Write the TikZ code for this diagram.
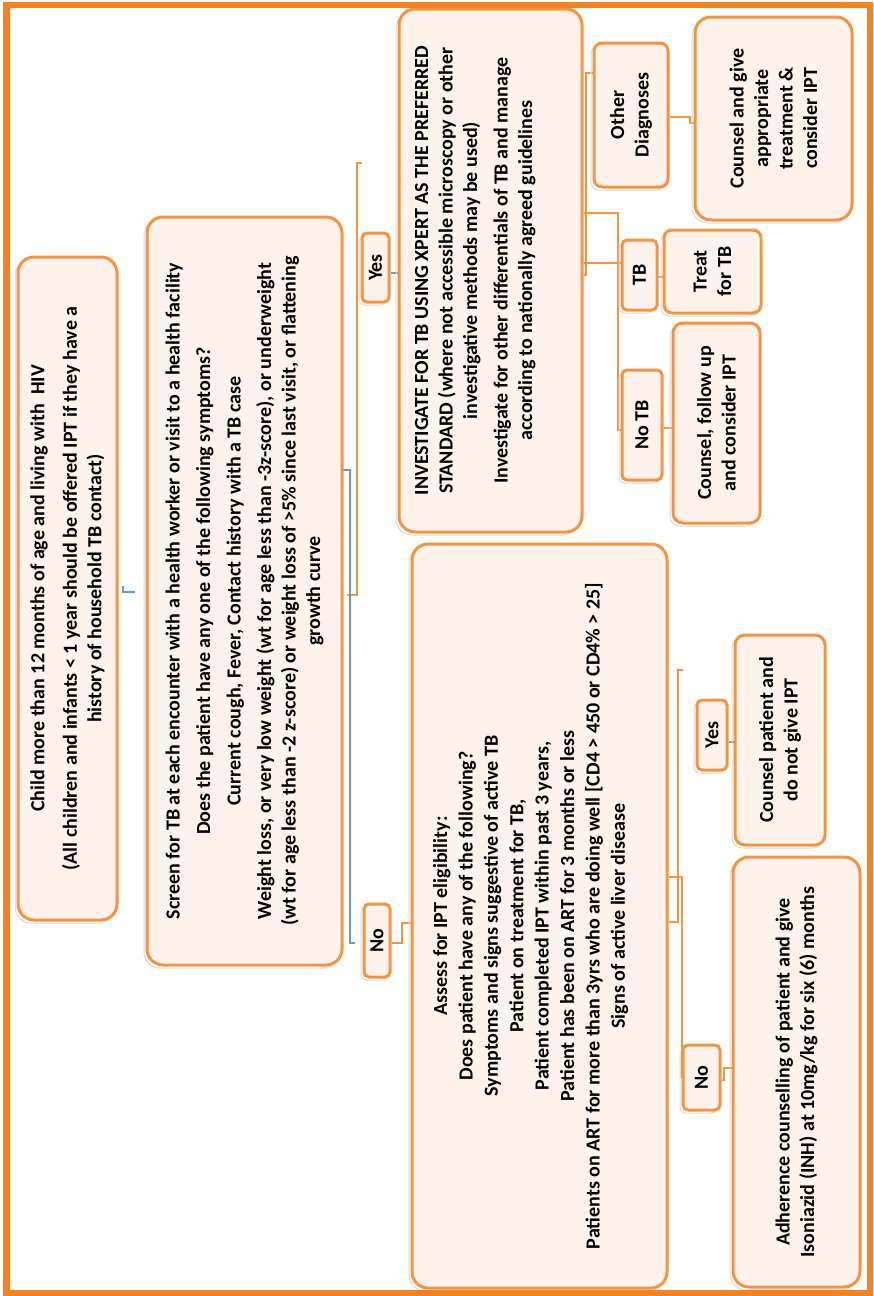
\documentclass[tikz,border=0pt]{standalone}
\usepackage{fontspec}
\setmainfont{Carlito}
\usetikzlibrary{calc}
\pgfdeclarelayer{background}
\pgfsetlayers{background,main}
\definecolor{frameor}{RGB}{245,130,32}
\definecolor{boxor}{RGB}{245,148,64}
\definecolor{boxfill}{RGB}{253,243,236}
\definecolor{lnblue}{RGB}{100,155,210}
\newcommand\fs{\fontsize{20pt}{24.5pt}\selectfont\bfseries}
\newcommand\fsd{\fontsize{20pt}{25.4pt}\selectfont\bfseries}
\tikzset{
  bx/.style={draw=boxor, line width=3pt, fill=boxfill, rotate=90, align=center,
    inner sep=0pt, font=\fs, rounded corners=#1,
    preaction={draw=black!15, line width=1pt, transform canvas={shift={(-3pt,-3pt)}}}},
  bx/.default=16pt,
  oc/.style={draw=boxor, line width=2pt},
  bc/.style={draw=lnblue, line width=2pt},
}
\begin{document}
\begin{tikzpicture}[x=1pt,y=-1pt]
\useasboundingbox (0,0) rectangle (873,1296);

% main boxes
\node[bx, minimum width=663pt, minimum height=99pt] (A) at (67.5,588.5)
 {Child more than 12 months of age and living with\ \ HIV\\[8pt](All children and infants < 1 year should be offered IPT if they have a\\history of household TB contact)};
\node[bx, minimum width=748pt, minimum height=195pt] (B) at (244.5,591)
 {Screen for TB at each encounter with a health worker or visit to a health facility\\[6pt]Does the patient have any one of the following symptoms?\\[6pt]Current cough, Fever, Contact history with a TB case\\[6pt]Weight loss, or very low weight (wt for age less than -3z-score), or underweight\\(wt for age less than -2 z-score) or weight loss of >5\% since last visit, or flattening\\growth curve};
\node[bx, minimum width=523pt, minimum height=183pt] (C) at (490.5,270.5)
 {INVESTIGATE FOR TB USING XPERT AS THE PREFERRED\\STANDARD (where not accessible microscopy or other\\investigative methods may be used)\\[6pt]Investigate for other differentials of TB and manage\\according to nationally agreed guidelines\rule[-34pt]{0pt}{0pt}};
\node[bx, font=\fsd, minimum width=744pt, minimum height=255pt] (D) at (539.5,916)
 {Assess for IPT eligibility:\\Does patient have any of the following?\\Symptoms and signs suggestive of active TB\\Patient on treatment for TB,\\Patient completed IPT within past 3 years,\\Patient has been on ART for 3 months or less\\Patients on ART for more than 3yrs who are doing well [CD4 > 450 or CD4\% > 25]\\Signs of active liver disease\rule[-21pt]{0pt}{0pt}};

% labels and outcome boxes
\node[bx=5pt, minimum width=69pt, minimum height=27pt] (YesU) at (375.5,267.5) {Yes};
\node[bx=5pt, minimum width=73pt, minimum height=26pt] (NoU) at (377,940.5) {No};
\node[bx=8pt, minimum width=144pt, minimum height=74pt] (OD) at (631,115) {Other\\Diagnoses};
\node[bx, minimum width=203pt, minimum height=157pt] (CG) at (773.5,118.5) {Counsel and give\\appropriate\\treatment \&\\consider IPT};
\node[bx=5pt, minimum width=70pt, minimum height=35pt] (TB) at (639.5,275) {TB};
\node[bx=8pt, minimum width=83pt, minimum height=97pt] (Treat) at (712.5,271.5) {Treat\\for TB};
\node[bx=5pt, minimum width=110pt, minimum height=40pt] (NoTB) at (642,425) {No TB};
\node[bx=10pt, minimum width=200pt, minimum height=87pt] (CF) at (716.5,423) {Counsel, follow up\\and consider IPT};
\node[bx=5pt, minimum width=70pt, minimum height=30pt] (YesL) at (712,735) {Yes};
\node[bx=10pt, minimum width=210pt, minimum height=90pt] (CP) at (780,740) {Counsel patient and\\do not give IPT};
\node[bx=5pt, minimum width=65pt, minimum height=37pt] (NoL) at (701.5,1077.5) {No};
\node[bx, minimum width=430pt, minimum height=127pt] (AD) at (796.5,1072) {Adherence counselling of patient and give\\Isoniazid (INH) at 10mg/kg for six (6) months};

% connectors
\begin{pgfonlayer}{background}
\coordinate (ab1) at (123,586);
\coordinate (ab2) at (135,592);
\draw[bc] (ab1) |- (ab2);
\coordinate (yb1) at (347,595);
\coordinate (yb2) at (362,163);
\draw[oc] (yb1) -- ++(10,0) |- (yb2);
\coordinate (nb1) at (343,470);
\coordinate (nb2) at (355,943);
\draw[bc] (nb1) -- ++(7,0) |- (nb2);
\draw[bc] (YesU.south |- 0,273) -- (C.north |- 0,273);
\draw[oc] (NoU.south |- 0,943) -- (402,943) |- (D.north |- 0,923);
\draw[oc] (C.south |- 0,275) -- ++(2,0) |- (OD.north |- 0,73);
\draw[oc] (C.south |- 0,263) -- (TB.north |- 0,263);
\draw[oc] (C.south |- 0,213) -| (618,430) -- (NoTB.north |- 0,430);
\draw[oc] (OD.south |- 0,117) -- (690,117) |- (CG.north |- 0,123);
\draw[oc] (TB.south |- 0,277) -- (Treat.north |- 0,277);
\draw[oc] (NoTB.south |- 0,428) -- (CF.north |- 0,428);
\coordinate (yl1) at (683,670);
\draw[oc] (D.south |- 0,922) -- (678,922) |- (yl1);
\draw[oc] (D.south |- 0,877) -| (NoL.north);
\draw[bc] (YesL.south |- 0,742) -- (CP.north |- 0,742);
\draw[oc] (NoL.south |- 0,1080) -- (724,1080) |- (AD.north |- 0,1068);
\end{pgfonlayer}

% outer frame
\draw[draw=frameor, line width=6.5pt] (6.5,5) rectangle (869.8,1293);
\end{tikzpicture}
\end{document}
